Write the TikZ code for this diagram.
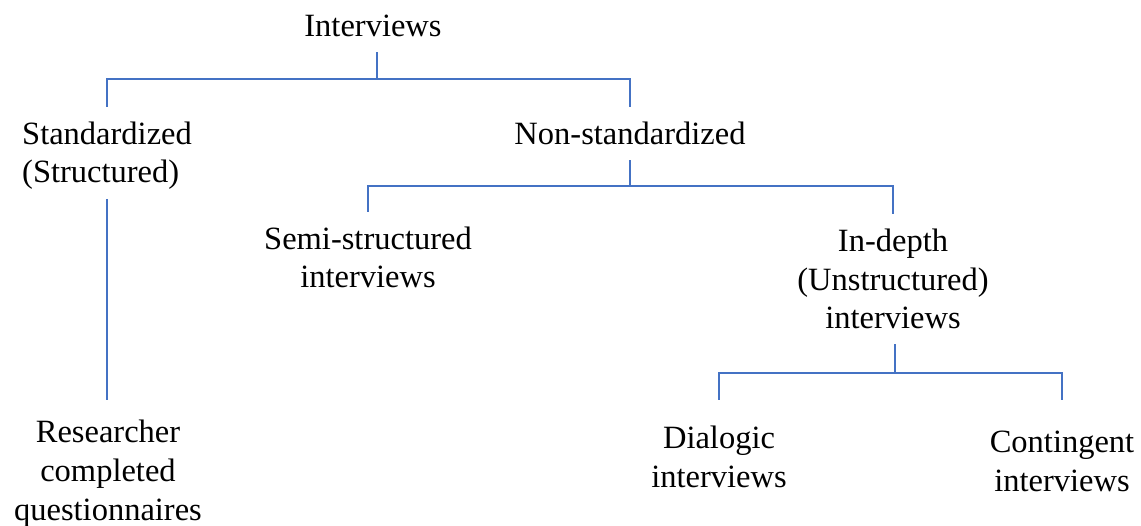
\documentclass[tikz,border=0pt]{standalone}
\usepackage{fontspec}
\setmainfont{Liberation Serif}
\definecolor{treeblue}{HTML}{4472C4}
\tikzset{
  lbl/.style={align=center,inner sep=0pt,outer ysep=15pt,
              font=\fontsize{32.5}{38.8}\selectfont},
  link/.style={draw=treeblue,line width=1.9pt}
}

\begin{document}
\begin{tikzpicture}[x=1pt,y=-1pt]
  \useasboundingbox (0,0) rectangle (1141,526);

  % Tier levels of the horizontal bars
  \coordinate (tier1) at (0,79);
  \coordinate (tier2) at (0,186);
  \coordinate (tier3) at (0,373);
  \coordinate (leafrow) at (0,400);

  % base = baseline of the last line
  \node[lbl, anchor=base] (interviews) at (373,37) {Interviews};
  \node[lbl, anchor=base west, align=left] (std) at (22,183) {Standardized\\(Structured)};
  \node[lbl, anchor=base] (nonstd) at (630,145) {Non-standardized};
  \node[lbl, anchor=base] (semi) at (368,288) {Semi-structured\\interviews};
  \node[lbl, anchor=base] (indepth) at (893,329) {In-depth\\(Unstructured)\\interviews};
  \node[lbl, anchor=base] (researcher) at (108,520) {Researcher\\completed\\questionnaires};
  \node[lbl, anchor=base] (dialogic) at (719,487) {Dialogic\\interviews};
  \node[lbl, anchor=base] (contingent) at (1062,491) {Contingent\\interviews};

  \draw[link] ([xshift=4pt]interviews.south) -- ([xshift=4pt]interviews.south |- tier1) -| (std.north);
  \draw[link] ([xshift=4pt]interviews.south |- tier1) -| (nonstd.north);

  \draw[link] (nonstd.south) -- (nonstd.south |- tier2) -| (semi.north);
  \draw[link] (nonstd.south |- tier2) -| (indepth.north);

  % Standardized branch
  \draw[link, shorten <=-6pt] (std.south) -- (std.south |- leafrow);

  \draw[link] ([xshift=2pt]indepth.south) -- ([xshift=2pt]indepth.south |- tier3) -| (dialogic.north |- leafrow);
  \draw[link] ([xshift=2pt]indepth.south |- tier3) -| (contingent.north |- leafrow);
\end{tikzpicture}
\end{document}
